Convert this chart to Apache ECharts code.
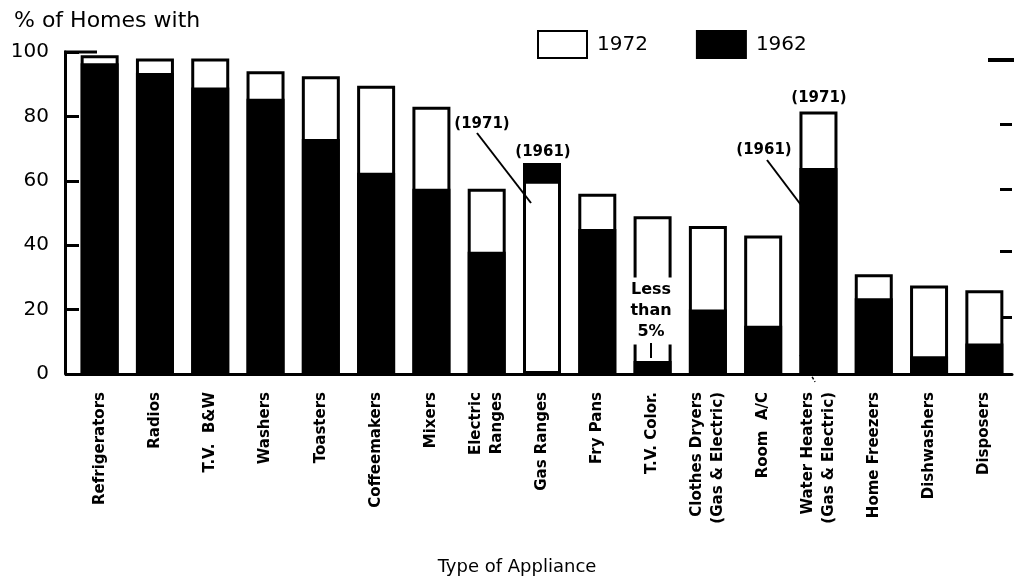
<!DOCTYPE html>
<html>
<head>
<meta charset="utf-8">
<script src="https://cdn.jsdelivr.net/npm/echarts@6/dist/echarts.min.js"></script>
<style>html,body{margin:0;padding:0;background:#fff;}#c{width:1014px;height:582px;}</style>
</head>
<body>
<div id="c"></div>
<script>
const categories = ['Refrigerators','Radios','T.V.  B&W','Washers','Toasters','Coffeemakers','Mixers','Electric\nRanges','Gas Ranges','Fry Pans','T.V. Color.','Clothes Dryers\n(Gas & Electric)','Room  A/C','Water Heaters\n(Gas & Electric)','Home Freezers','Dishwashers','Disposers'];
const v1972 = [99, 98, 98, 94, 92.5, 89.5, 83, 57.5, 60, 56, 49, 46, 43, 81.5, 31, 27.5, 26];
const v1962 = [96.5, 93.5, 89, 85.5, 73, 62.5, 57.5, 38, 65.5, 45, 4, 20, 15, 64, 23.5, 5.5, 9.5];
const yTicks = [0, 20, 40, 60, 80, 100];
const rightTicks = [17.5, 38, 57.5, 77.5];

// 1972 bars redrawn on top where the 1972 value is lower than the 1962 one
const overlay = v1972.map((v, i) => (v < v1962[i] ? v : '-'));

const chart = echarts.init(document.getElementById('c'), null, {renderer: 'canvas'});
const FONT = 'DejaVu Sans';
const BOLD = 'bold 15px "DejaVu Sans"';
const Z = 100;
const option = {
  backgroundColor: '#fff',
  animation: false,
  title: {
    text: '% of Homes with', left: 9, top: 5,
    textStyle: {fontFamily: FONT, fontSize: 22, fontWeight: 'normal', color: '#000'}
  },
  legend: {
    data: ['1972', '1962'], left: 537, top: 30, padding: 0,
    itemWidth: 49, itemHeight: 27, itemGap: 48, icon: 'rect',
    textStyle: {fontFamily: FONT, fontSize: 20, color: '#000', padding: [0, 0, 0, 5]}
  },
  grid: {left: 72, right: 2, top: 52, bottom: 208, containLabel: false, outerBoundsMode: 'none'},
  xAxis: {
    type: 'category', data: categories,
    axisLine: {show: true, lineStyle: {color: '#000', width: 3}},
    axisTick: {show: false},
    axisLabel: {
      interval: 0, rotate: 90, margin: 18, color: '#000',
      fontFamily: FONT, fontSize: 15, fontWeight: 'bold', lineHeight: 21
    },
    name: 'Type of Appliance', nameLocation: 'middle', nameGap: 184,
    nameTextStyle: {fontFamily: FONT, fontSize: 18, color: '#000', padding: [0, 50, 0, 0]}
  },
  yAxis: [{
    type: 'value', min: yTicks[0], max: yTicks[yTicks.length - 1], interval: 20, offset: 7,
    axisLine: {show: true, lineStyle: {color: '#000', width: 3}},
    axisTick: {show: true, inside: true, length: 14, lineStyle: {color: '#000', width: 3}},
    axisLabel: {color: '#000', fontFamily: FONT, fontSize: 20, margin: 16},
    splitLine: {show: false}
  }, {
    type: 'value', min: yTicks[0], max: yTicks[yTicks.length - 1], interval: 20, position: 'right',
    axisLine: {show: false},
    axisTick: {show: true, inside: true, length: 12, customValues: rightTicks, lineStyle: {color: '#000', width: 3}},
    axisLabel: {show: false},
    splitLine: {show: false}
  }],
  series: [{
    name: '1972', type: 'bar', data: v1972, barWidth: 38, barGap: '-100%',
    itemStyle: {color: '#fff', borderColor: '#000', borderWidth: 3}
  }, {
    name: '1962', type: 'bar', data: v1962, barWidth: 38, barGap: '-100%',
    itemStyle: {color: '#000', borderColor: '#000', borderWidth: 3}
  }, {
    name: '1972', type: 'bar', data: overlay, barWidth: 38, barGap: '-100%',
    itemStyle: {color: '#fff', borderColor: '#000', borderWidth: 3}
  }],
  graphic: [
    {type: 'text', z: Z, x: 482, y: 124, style: {text: '(1971)', font: BOLD, fill: '#000', align: 'center', verticalAlign: 'middle'}},
    {type: 'line', z: Z, shape: {x1: 477, y1: 133, x2: 531, y2: 203}, style: {stroke: '#000', lineWidth: 2}},
    {type: 'text', z: Z, x: 543, y: 152, style: {text: '(1961)', font: BOLD, fill: '#000', align: 'center', verticalAlign: 'middle'}},
    {type: 'text', z: Z, x: 819, y: 98, style: {text: '(1971)', font: BOLD, fill: '#000', align: 'center', verticalAlign: 'middle'}},
    {type: 'text', z: Z, x: 764, y: 150, style: {text: '(1961)', font: BOLD, fill: '#000', align: 'center', verticalAlign: 'middle'}},
    {type: 'line', z: Z, shape: {x1: 767, y1: 160, x2: 801, y2: 205}, style: {stroke: '#000', lineWidth: 2}},
    {type: 'line', z: Z, shape: {x1: 800, y1: 355, x2: 815, y2: 382}, style: {stroke: '#000', lineWidth: 1.5, lineDash: [3, 2]}},
    {type: 'text', z: Z, x: 651, y: 311, style: {text: 'Less\nthan\n5%', font: 'bold 16px "DejaVu Sans"', fill: '#000', align: 'center', verticalAlign: 'middle', lineHeight: 21, backgroundColor: '#fff', padding: [2, 1, 2, 1]}},
    {type: 'line', z: Z, shape: {x1: 651, y1: 343, x2: 651, y2: 358}, style: {stroke: '#000', lineWidth: 2}},
    {type: 'line', z: Z, shape: {x1: 64, y1: 52, x2: 97, y2: 52}, style: {stroke: '#000', lineWidth: 3}},
    {type: 'line', z: Z, shape: {x1: 988, y1: 60, x2: 1014, y2: 60}, style: {stroke: '#000', lineWidth: 4}}
  ]
};
chart.setOption(option);
</script>
</body>
</html>
